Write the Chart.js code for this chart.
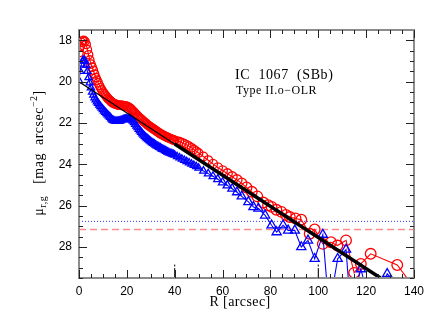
<!DOCTYPE html>
<html><head><meta charset="utf-8">
<script src="https://cdn.jsdelivr.net/npm/chart.js@4"></script>
<style>html,body{margin:0;padding:0;background:#fff}#wrap{width:430px;height:333px}</style>
</head><body><div id="wrap"><canvas id="c" width="430" height="333"></canvas></div>
<script>
const xTicks = [0,20,40,60,80,100,120,140];
const yTicks = [18,20,22,24,26,28];
const xRange = [0,140];
const yRange = [17.5,29.5];

// inner radii (arcsec), shared by both profiles
const innerR = [0,0.5,1,1.5,2,2.5,3,3.5,4,4.5,5,5.5,6,6.5,7,7.5,8,8.5,9,9.5,10,10.5,11,11.5,12,12.5,13,13.5,14,14.5,15,15.5,16,16.5,17,17.5,18,18.5,19,19.5,20,
  20.5,21,21.5,22,22.5,23,23.5,24,24.5,25,25.5,26,26.5,27,27.5,28,28.5,29,29.5,30,30.5,31,31.5,32,32.5,33,33.5,34,34.5,35,35.5,36,36.5,37,37.5,38,38.5,39,39.5,40,
  41,42,43,44,45,46,47,48,49,50,52,54,56,58,60,62,64,66,68];

const redInnerMu = [18.6,18.3,18.1,18.02,18.0,18.05,18.2,18.45,18.7,18.95,19.15,19.3,19.45,19.63,19.8,19.93,20.05,20.18,20.3,20.4,20.5,20.58,20.65,20.73,20.8,20.86,20.92,20.97,21.02,21.05,21.08,21.1,21.12,21.13,21.14,21.15,21.15,21.16,21.17,21.18,21.2,
  21.22,21.25,21.3,21.35,21.41,21.47,21.54,21.6,21.66,21.72,21.77,21.82,21.87,21.92,21.97,22.02,22.07,22.12,22.16,22.2,22.24,22.28,22.32,22.36,22.4,22.44,22.48,22.52,22.55,22.58,22.61,22.64,22.67,22.7,22.72,22.75,22.77,22.8,22.82,22.84,
  22.87,22.9,22.95,23.0,23.06,23.12,23.2,23.28,23.36,23.45,23.62,23.8,23.98,24.15,24.3,24.45,24.6,24.75,24.92];
const redOuterR = [70,72.2,74.5,77,79,80.5,82.5,84.6,86.5,88.1,90.5,92.9,96.4,98.5,101.9,105.3,108,111.6,115,117.8,121.9,133,139];
const redOuterMu = [25.12,25.33,25.55,25.85,25.98,26.06,26.2,26.3,26.45,26.55,26.62,26.68,27.36,27.15,27.85,27.77,27.93,27.68,29.25,28.82,28.33,28.87,29.8];

const blueInnerMu = [19.95,19.5,19.15,19.0,18.95,19.0,19.2,19.5,19.8,20.05,20.3,20.5,20.65,20.78,20.88,20.97,21.05,21.13,21.2,21.28,21.35,21.42,21.48,21.54,21.6,21.66,21.72,21.79,21.85,21.88,21.9,21.91,21.92,21.91,21.9,21.88,21.85,21.83,21.82,21.81,21.8,
  21.8,21.8,21.82,21.85,21.9,21.98,22.06,22.15,22.22,22.3,22.38,22.45,22.52,22.58,22.64,22.7,22.75,22.8,22.85,22.9,22.94,22.98,23.02,23.06,23.1,23.13,23.17,23.2,23.24,23.27,23.3,23.33,23.37,23.4,23.43,23.45,23.48,23.5,23.53,23.55,
  23.62,23.68,23.74,23.8,23.86,23.92,23.98,24.05,24.11,24.18,24.32,24.45,24.58,24.72,24.88,25.02,25.18,25.35,25.55];
const blueOuterR = [70.8,72.9,75,77.8,80.5,82.6,85.3,87.4,90.2,92.9,95.7,98.5,101.9,104.5,108.1,111.6,113.5,117.8,121,126.5,128.8,133];
const blueOuterMu = [25.82,26.06,26.14,26.47,26.95,27.28,26.95,27.2,27.2,28.0,27.68,28.57,27.4,31.0,28.57,28.12,31.0,29.07,30.5,30.0,29.3,29.8];

const fitR = [0,126];
const fitMu = [20.0,29.5];
const fitInnerR = [40,126];
const fitInnerMu = [23.02,29.5];
const muSkyDotted = 26.76;
const muLimitDashed = 27.15;
const breakR = [40,100];
const breakTop = 28.85;

const pts = (xs, ys) => xs.map((x,i)=>({x:x,y:ys[i]}));
const markerSize = ctx => {
  const p = ctx.raw; if(!p) return 4.2;
  const t = Math.min(1, Math.max(0, (p.x-50)/20));
  return 4.2 + t*1.1;
};
const redPts = pts(innerR, redInnerMu).concat(pts(redOuterR, redOuterMu));
const bluePts = pts(innerR, blueInnerMu).concat(pts(blueOuterR, blueOuterMu));

const datasets = [
  {data: pts(fitInnerR, fitInnerMu), borderColor:'#000', borderWidth:3.5, pointRadius:0, showLine:true, order:0},
  {data: pts(fitR, fitMu), borderColor:'#000', borderWidth:1.2, pointRadius:0, showLine:true, order:1},
  {data: bluePts, borderColor:'#0000ff', borderWidth:1.1, pointStyle:'triangle', pointRadius:markerSize,
    pointBorderColor:'#0000ff', pointBackgroundColor:'rgba(0,0,0,0)', pointBorderWidth:1.3, showLine:true, order:2},
  {data: redPts, borderColor:'#ff0000', borderWidth:1.1, pointStyle:'circle', pointRadius:markerSize,
    pointBorderColor:'#ff0000', pointBackgroundColor:'rgba(0,0,0,0)', pointBorderWidth:1.3, showLine:true, order:3},
  {data: pts(xRange, [muSkyDotted,muSkyDotted]), borderColor:'#3535ff', borderWidth:1, borderDash:[1,2], pointRadius:0, showLine:true, order:5},
  {data: pts(xRange, [muLimitDashed,muLimitDashed]), borderColor:'#ff8c8c', borderWidth:1.6, borderDash:[7,4], pointRadius:0, showLine:true, order:4},
];
breakR.forEach(r => datasets.push({data: pts([r,r],[yRange[1],breakTop]), borderColor:'#000', borderWidth:1, borderDash:[10,1.5,2,20], pointRadius:0, showLine:true, order:0, clip:false}));
datasets.forEach(d => { if(d.clip===undefined) d.clip = 0; d.tension = 0; });

const framePlugin = {
  id:'frame',
  afterDatasetsDraw(chart){
    const {ctx, chartArea:a, scales:{x,y}} = chart;
    ctx.save();
    ctx.strokeStyle = '#8c8c8c'; ctx.lineWidth = 2;
    ctx.strokeRect(a.left, a.top, a.right-a.left, a.bottom-a.top);
    ctx.strokeStyle = '#222'; ctx.lineWidth = 1;
    ctx.beginPath();
    for(let v = xRange[0]; v <= xRange[1]+1e-9; v += 5){
      const px = Math.round(x.getPixelForValue(v))+0.5;
      const L = (v % 20 === 0) ? 8 : 4;
      ctx.moveTo(px, a.bottom); ctx.lineTo(px, a.bottom-L);
      ctx.moveTo(px, a.top); ctx.lineTo(px, a.top+L);
    }
    for(let v = 18; v <= 29.5+1e-9; v += 0.5){
      const py = Math.round(y.getPixelForValue(v))+0.5;
      const L = (Math.abs(v % 2) < 1e-9) ? 8 : 4;
      ctx.moveTo(a.left, py); ctx.lineTo(a.left+L, py);
      ctx.moveTo(a.right, py); ctx.lineTo(a.right-L, py);
    }
    ctx.stroke();
    // texts
    ctx.fillStyle = '#000';
    ctx.textBaseline = 'alphabetic';
    ctx.letterSpacing = '0.6px';
    ctx.font = '14px "Liberation Serif"';
    ctx.fillText('IC  1067  (SBb)', 235, 79);
    ctx.letterSpacing = '0.5px';
    ctx.font = '12px "Liberation Serif"';
    ctx.fillText('Type II.o\u2212OLR', 236, 94);
    // x label
    ctx.letterSpacing = '0.4px';
    ctx.font = '14px "Liberation Serif"';
    ctx.textAlign = 'center';
    ctx.fillText('R [arcsec]', 240, 306);
    // y label
    ctx.translate(43, 153);
    ctx.rotate(-Math.PI/2);
    ctx.textAlign = 'left';
    ctx.letterSpacing = '0.5px';
    const parts = [
      {t:'\u03bc', f:'14px "Liberation Serif"', dy:0},
      {t:'r,g', f:'10px "Liberation Serif"', dy:3},
      {t:'   [mag  arcsec', f:'14px "Liberation Serif"', dy:0},
      {t:'\u22122', f:'10px "Liberation Serif"', dy:-6},
      {t:']', f:'14px "Liberation Serif"', dy:0},
    ];
    let w = 0;
    parts.forEach(p => { ctx.font = p.f; p.w = ctx.measureText(p.t).width; w += p.w; });
    let cx = -w/2;
    parts.forEach(p => { ctx.font = p.f; ctx.fillText(p.t, cx, p.dy); cx += p.w; });
    ctx.restore();
  }
};

new Chart(document.getElementById('c'), {
  type:'scatter',
  data:{datasets},
  options:{
    responsive:false, animation:false, events:[],
    layout:{padding:{top:30, right:13, left:0, bottom:0}},
    plugins:{legend:{display:false}, tooltip:{enabled:false}},
    scales:{
      x:{type:'linear', min:xRange[0], max:xRange[1],
        afterBuildTicks: s => { s.ticks = xTicks.map(v=>({value:v})); },
        afterFit: s => { s.height = 55; },
        grid:{display:false, drawTicks:false}, border:{display:false},
        ticks:{color:'#000', padding:6, font:{family:'Liberation Sans', size:12}, maxRotation:0, autoSkip:false}},
      y:{type:'linear', reverse:true, min:yRange[0], max:yRange[1],
        afterBuildTicks: s => { s.ticks = yTicks.map(v=>({value:v})); },
        afterFit: s => { s.width = 79; },
        grid:{display:false, drawTicks:false}, border:{display:false},
        ticks:{color:'#000', padding:7, font:{family:'Liberation Sans', size:12}, autoSkip:false}}
    }
  },
  plugins:[framePlugin]
});
</script></body></html>
